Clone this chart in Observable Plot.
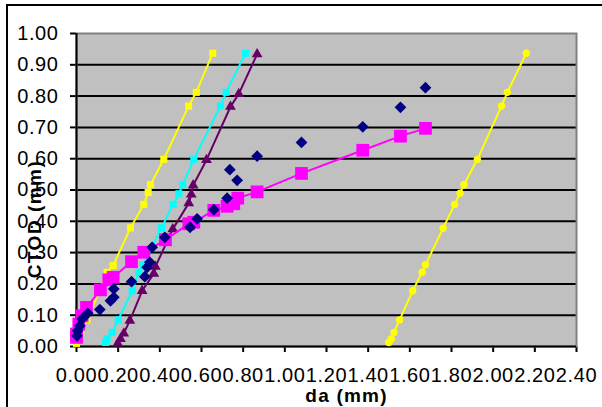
<!DOCTYPE html>
<html>
<head>
<meta charset="utf-8">
<script src="https://cdn.jsdelivr.net/npm/d3@7"></script>
<script src="https://cdn.jsdelivr.net/npm/@observablehq/plot@0.6"></script>
<style>
  html, body { margin: 0; padding: 0; background: #fff; overflow: hidden; width: 602px; height: 407px; }
  #wrap { position: relative; width: 602px; height: 407px; }
  #box { position: absolute; left: 6px; top: 4px; width: 700px; height: 500px; border: 2px solid #000; box-sizing: border-box; }
  #chart { position: absolute; left: 0; top: 0; }
  #chart svg g[aria-label="x-axis"] path, #chart svg g[aria-label="y-axis"] path,
  #chart svg g[aria-label="x-axis tick"] path, #chart svg g[aria-label="y-axis tick"] path { stroke-width: 2; }
</style>
</head>
<body>
<div id="wrap"><div id="box"></div><div id="chart"></div></div>
<script>
// ---- data ----
const xTicks = [0, 0.2, 0.4, 0.6, 0.8, 1.0, 1.2, 1.4, 1.6, 1.8, 2.0, 2.2, 2.4];
const yTicks = [0, 0.1, 0.2, 0.3, 0.4, 0.5, 0.6, 0.7, 0.8, 0.9, 1.0];
const yGrid = [0.1, 0.2, 0.3, 0.4, 0.5, 0.6, 0.7, 0.8, 0.9];

const yellowLeftX = [0.00, 0.01, 0.02, 0.05, 0.11, 0.147, 0.176, 0.259, 0.323, 0.344, 0.355, 0.419, 0.538, 0.575, 0.654];
const yellowLeftY = [0.010, 0.024, 0.045, 0.085, 0.178, 0.237, 0.259, 0.379, 0.454, 0.492, 0.517, 0.598, 0.768, 0.812, 0.937];

const cyanX = [0.139, 0.147, 0.171, 0.200, 0.267, 0.299, 0.320, 0.408, 0.464, 0.491, 0.510, 0.563, 0.691, 0.718, 0.811];
const cyanY = [0.013, 0.024, 0.045, 0.085, 0.178, 0.237, 0.261, 0.379, 0.454, 0.488, 0.517, 0.598, 0.768, 0.812, 0.937];

const purpleX = [0.198, 0.211, 0.227, 0.256, 0.315, 0.371, 0.379, 0.462, 0.539, 0.551, 0.560, 0.624, 0.739, 0.779, 0.867];
const purpleY = [0.010, 0.024, 0.042, 0.083, 0.178, 0.233, 0.255, 0.375, 0.458, 0.486, 0.515, 0.596, 0.766, 0.807, 0.934];

const yellowRightX = [1.499, 1.511, 1.524, 1.551, 1.614, 1.659, 1.675, 1.760, 1.815, 1.841, 1.860, 1.924, 2.040, 2.068, 2.159];
const yellowRightY = [0.013, 0.024, 0.045, 0.085, 0.178, 0.237, 0.261, 0.378, 0.454, 0.490, 0.517, 0.598, 0.768, 0.812, 0.937];

const magentaX = [0.000, 0.000, 0.011, 0.027, 0.048, 0.115, 0.155, 0.176, 0.264, 0.323, 0.427, 0.539, 0.563, 0.659, 0.723, 0.755, 0.774, 0.867, 1.080, 1.374, 1.555, 1.675];
const magentaY = [0.029, 0.040, 0.072, 0.098, 0.125, 0.181, 0.213, 0.221, 0.271, 0.301, 0.341, 0.392, 0.397, 0.435, 0.448, 0.456, 0.474, 0.494, 0.553, 0.627, 0.672, 0.697];

const navyX = [0.003, 0.006, 0.016, 0.027, 0.054, 0.112, 0.163, 0.179, 0.179, 0.264, 0.328, 0.339, 0.352, 0.363, 0.424, 0.545, 0.579, 0.659, 0.723, 0.771, 0.736, 0.867, 1.080, 1.374, 1.555, 1.675];
const navyY = [0.034, 0.050, 0.066, 0.088, 0.106, 0.118, 0.146, 0.157, 0.184, 0.207, 0.223, 0.253, 0.269, 0.317, 0.349, 0.381, 0.408, 0.437, 0.474, 0.531, 0.565, 0.608, 0.652, 0.702, 0.764, 0.827];

const pts = (xs, ys) => xs.map((x, i) => ({x, y: ys[i]}));
const yellowLeft = pts(yellowLeftX, yellowLeftY);
const cyan = pts(cyanX, cyanY);
const purple = pts(purpleX, purpleY);
const yellowRight = pts(yellowRightX, yellowRightY);
const magenta = pts(magentaX, magentaY);
const navy = pts(navyX, navyY);

const chart = Plot.plot({
  width: 602,
  height: 407,
  marginLeft: 76,
  marginRight: 26,
  marginTop: 33,
  marginBottom: 61,
  style: { fontFamily: "'Liberation Sans', Arial, sans-serif", fontSize: "20px", color: "#000", background: "transparent" },
  x: { domain: [0, 2.4], ticks: xTicks, tickFormat: d3.format(".2f"), tickSize: 6, tickPadding: 15, label: null },
  y: { domain: [0, 1], ticks: yTicks, tickFormat: d3.format(".2f"), tickSize: 6, tickPadding: 12, label: null },
  marks: [
    Plot.frame({ fill: "#c0c0c0" }),
    Plot.ruleY(yGrid, { stroke: "#000", strokeWidth: 2 }),
    Plot.frame({ stroke: "#808080", strokeWidth: 2 }),
    Plot.ruleX([0], { stroke: "#000", strokeWidth: 2 }),
    Plot.ruleY([0], { stroke: "#000", strokeWidth: 2 }),

    Plot.line(yellowLeft, { x: "x", y: "y", stroke: "#ffff00", strokeWidth: 2 }),
    Plot.dot(yellowLeft, { x: "x", y: "y", symbol: "square", r: 4, fill: "#ffff00" }),

    Plot.line(cyan, { x: "x", y: "y", stroke: "#00ffff", strokeWidth: 2 }),
    Plot.dot(cyan, { x: "x", y: "y", symbol: "square", r: 4, fill: "#00ffff" }),

    Plot.line(purple, { x: "x", y: "y", stroke: "#660066", strokeWidth: 2 }),
    Plot.dot(purple, { x: "x", y: "y", symbol: "triangle", r: 4, fill: "#660066" }),

    Plot.line(yellowRight, { x: "x", y: "y", stroke: "#ffff00", strokeWidth: 2 }),
    Plot.dot(yellowRight, { x: "x", y: "y", symbol: "circle", r: 3.7, fill: "#ffff00" }),

    Plot.line(magenta, { x: "x", y: "y", stroke: "#ff00ff", strokeWidth: 2 }),
    Plot.dot(magenta, { x: "x", y: "y", symbol: "square", r: 7.2, fill: "#ff00ff" }),

    Plot.dot(navy, { x: "x", y: "y", symbol: "diamond2", r: 5.3, fill: "#000080" }),

    Plot.text(["CTOD (mm)"], { frameAnchor: "left", text: d => d, rotate: -90, dx: -42, dy: 29,
      textAnchor: "middle", lineAnchor: "middle", fontWeight: "bold", fontSize: 19, fill: "#000" }),
    Plot.text(["da (mm)"], { frameAnchor: "bottom", text: d => d, dx: 20, dy: 49,
      textAnchor: "middle", lineAnchor: "middle", fontWeight: "bold", fontSize: 19, fill: "#000" })
  ]
});
document.getElementById("chart").appendChild(chart);
chart.querySelectorAll("text").forEach(t => {
  if (t.textContent === "CTOD (mm)") {
    t.setAttribute("letter-spacing", "1.5");
  } else if (t.textContent === "da (mm)") {
    t.setAttribute("letter-spacing", "1.2");
  } else {
    t.style.fontSize = "20px";
    t.style.letterSpacing = "0.6px";
  }
});
</script>
</body>
</html>
